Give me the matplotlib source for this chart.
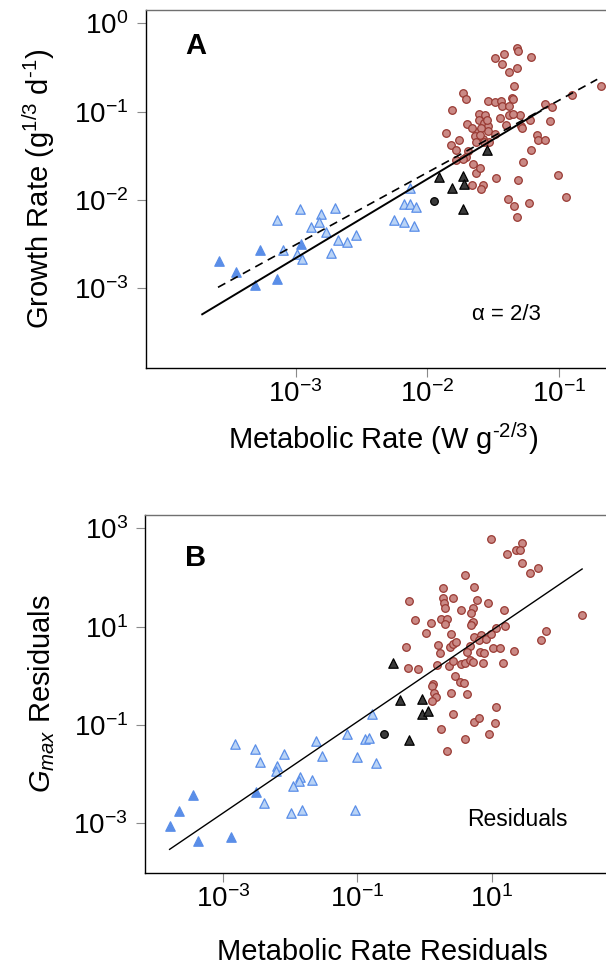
import numpy as np
import matplotlib
matplotlib.use("Agg")
import matplotlib.pyplot as plt
from matplotlib.ticker import NullLocator, LogFormatterSciNotation

plt.rcParams["font.family"] = ["Liberation Sans", "DejaVu Sans"]
plt.rcParams["mathtext.fontset"] = "custom"
plt.rcParams["mathtext.rm"] = "Liberation Sans"
plt.rcParams["mathtext.it"] = "Liberation Sans:italic"
plt.rcParams["mathtext.bf"] = "Liberation Sans:bold"

# ---- Panel A: log10 metabolic rate (x) vs log10 growth rate (y) ----
a_fill_logx = [-3.58, -3.45, -3.31, -3.27, -3.14, -2.96]
a_fill_logy = [-2.69, -2.81, -2.96, -2.57, -2.90, -2.50]

a_open_logx = [-3.14, -2.97, -2.81, -2.70, -2.82, -2.88, -2.77, -3.10, -2.99, -2.95, -2.68,
               -2.61, -2.54, -2.73, -2.13, -2.18, -2.13, -2.09, -2.25, -2.18, -2.10]
a_open_logy = [-2.23, -2.10, -2.16, -2.09, -2.25, -2.31, -2.36, -2.57, -2.61, -2.67, -2.45,
               -2.48, -2.40, -2.60, -1.86, -2.04, -2.05, -2.08, -2.23, -2.25, -2.29]

a_dark_logx = [-1.91, -1.81, -1.73, -1.72, -1.73, -1.55]
a_dark_logy = [-1.74, -1.86, -1.73, -1.82, -2.10, -1.43]
a_dot_logx = [-1.95]
a_dot_logy = [-2.01]

a_red_logx = [-1.49, -1.42, -1.32, -1.31, -1.21, -1.43, -1.32, -1.38, -1.34, -1.73,
              -1.71, -1.81, -1.54, -1.49, -1.44, -1.36, -1.35, -1.43, -1.38, -1.38,
              -1.30, -1.45, -1.40, -1.29, -1.28, -1.22, -1.11, -1.05, -1.07, -0.90,
              -0.68, -1.61, -1.56, -1.61, -1.57, -1.54, -1.62, -1.54, -1.64, -1.58,
              -1.49, -1.53, -1.63, -1.70, -1.66, -1.86, -1.76, -1.82, -1.78, -1.69,
              -1.71, -1.78, -1.65, -1.63, -1.60, -1.66, -1.58, -1.59, -1.48, -1.31,
              -1.27, -1.21, -1.17, -1.16, -1.11, -1.01, -0.95, -1.39, -1.34, -1.32,
              -1.23, -1.59, -1.55, -1.60, -1.57, -1.73, -1.35]
a_red_logy = [-0.39, -0.35, -0.28, -0.31, -0.38, -0.46, -0.50, -0.55, -0.71, -0.79,
              -0.86, -0.98, -0.88, -0.89, -0.88, -0.84, -0.86, -0.94, -0.94, -1.04,
              -1.04, -1.07, -1.15, -1.16, -1.18, -1.09, -0.91, -0.95, -1.10, -0.81,
              -0.71, -1.02, -1.04, -1.09, -1.13, -1.16, -1.23, -1.22, -1.28, -1.31,
              -1.25, -1.34, -1.34, -1.14, -1.18, -1.24, -1.32, -1.38, -1.43, -1.45,
              -1.51, -1.55, -1.59, -1.69, -1.64, -1.83, -1.83, -1.88, -1.75, -1.77,
              -1.57, -1.43, -1.26, -1.32, -1.32, -1.72, -1.96, -1.99, -2.07, -2.19,
              -2.03, -1.18, -1.09, -1.26, -1.34, -1.53, -1.02]

# fitted lines (log10 intercept, slope, log10 x range)
a_fit_solid = (0.030, 0.896, -3.71, -1.14)
a_fit_dashed = (-0.052, 0.818, -3.59, -0.71)

# ---- Panel B: residuals ----
b_fill_logx = [-3.80, -3.66, -3.45, -3.37, -2.89, -2.51]
b_fill_logy = [-3.05, -2.75, -2.43, -3.35, -3.27, -2.36]

b_open_logx = [-2.83, -2.52, -2.45, -2.10, -2.20, -2.21, -1.85, -1.87, -1.96, -1.68, -2.39,
               -1.99, -1.83, -1.62, -1.53, -1.16, -0.88, -0.82, -1.01, -0.72, -1.04, -0.79]
b_open_logy = [-1.38, -1.49, -1.76, -1.60, -1.83, -1.93, -2.05, -2.13, -2.24, -2.12, -2.59,
               -2.80, -2.72, -1.33, -1.63, -1.19, -1.28, -1.26, -1.65, -1.77, -2.72, -0.78]

b_dark_logx = [-0.47, -0.37, -0.04, -0.04, 0.05, -0.23]
b_dark_logy = [0.26, -0.50, -0.47, -0.78, -0.72, -1.30]
b_dot_logx = [-0.60]
b_dot_logy = [-1.19]

b_red_logx = [0.99, 1.45, 1.36, 1.42, 1.23, 1.46, 1.58, 1.69, 0.60, 0.74,
              0.27, 0.28, 0.43, 0.29, 0.31, 0.79, 0.94, 0.73, 0.70, -0.23,
              0.54, 1.19, -0.14, 0.09, 0.25, 0.34, 0.31, 0.71, 0.73, 0.69,
              1.06, 1.20, 0.02, 0.39, 0.20, 0.38, 0.43, 0.47, 0.74, 0.84,
              0.81, 0.91, 0.99, 1.02, 1.12, 1.34, 1.17, 1.74, 1.81, 2.35,
              -0.27, 0.23, 0.68, 0.63, 0.83, 0.88, -0.25, -0.10, 0.19, 0.36,
              0.43, 0.54, 0.61, 0.68, 0.72, 0.87, 0.46, 0.53, 0.59, 0.13,
              0.11, 0.14, 0.17, 0.11, 0.40, 0.64, 1.07, 0.42, 0.74, 0.82,
              1.05, 0.24, 0.96, 0.61, 0.34]
b_red_logy = [2.79, 2.69, 2.56, 2.56, 2.48, 2.29, 2.08, 2.20, 2.04, 1.81,
              1.79, 1.59, 1.58, 1.47, 1.37, 1.54, 1.47, 1.37, 1.28, 1.52,
              1.33, 1.33, 1.13, 1.08, 1.15, 1.16, 1.05, 1.07, 1.09, 1.03,
              0.97, 1.02, 0.88, 0.85, 0.63, 0.59, 0.65, 0.69, 0.78, 0.82,
              0.72, 0.74, 0.84, 0.56, 0.57, 0.50, 0.25, 0.73, 0.91, 1.24,
              0.59, 0.47, 0.61, 0.49, 0.48, 0.47, 0.16, 0.14, 0.21, 0.19,
              0.30, 0.24, 0.27, 0.32, 0.29, 0.27, 0.00, -0.12, -0.14, -0.17,
              -0.20, -0.36, -0.44, -0.52, -0.36, -0.38, -0.64, -0.78, -0.93, -0.86,
              -0.96, -1.08, -1.19, -1.29, -1.53]

b_fit_solid = (-0.007, 0.927, -3.80, 2.35)

RED_FC, RED_EC = "#ca8985", "#993a33"
BLUE = "#5a8ee8"
LBLUE_FC = "#b9d3f6"
DARK = "#3a3a3a"


def lin(v):
    return 10 ** np.asarray(v)


def draw_points(ax, red, opn, fill, dark, dot):
    ax.scatter(lin(red[0]), lin(red[1]), s=30, c=RED_FC, edgecolors=RED_EC,
               linewidths=0.9, zorder=2)
    ax.scatter(lin(opn[0]), lin(opn[1]), s=46, marker="^", c=LBLUE_FC,
               edgecolors=BLUE, linewidths=0.9, zorder=3)
    ax.scatter(lin(fill[0]), lin(fill[1]), s=46, marker="^", c=BLUE,
               edgecolors=BLUE, linewidths=0.9, zorder=3)
    ax.scatter(lin(dark[0]), lin(dark[1]), s=46, marker="^", c=DARK,
               edgecolors="black", linewidths=0.9, zorder=3)
    ax.scatter(lin(dot[0]), lin(dot[1]), s=30, c=DARK, edgecolors="black",
               linewidths=0.9, zorder=3)


def draw_fit(ax, fit, **kw):
    icpt, slope, x0, x1 = fit
    xs = lin([x0, x1])
    ax.plot(xs, 10 ** icpt * xs ** slope, zorder=4, **kw)


def style_axes(ax, xticks, yticks, xlim, ylim):
    ax.set_xscale("log")
    ax.set_yscale("log")
    ax.set_xlim(xlim)
    ax.set_ylim(ylim)
    ax.set_xticks(xticks)
    ax.set_yticks(yticks)
    for axis in (ax.xaxis, ax.yaxis):
        axis.set_minor_locator(NullLocator())
        axis.set_major_formatter(LogFormatterSciNotation())
    ax.tick_params(direction="out", length=6.5, width=0.8, color="#8a8a8a",
                   labelsize=20)
    ax.tick_params(axis="x", pad=2)
    ax.tick_params(axis="y", pad=6)
    for side in ("left", "bottom"):
        ax.spines[side].set_color("black")
        ax.spines[side].set_linewidth(1.0)
    ax.spines["top"].set_color("#707070")
    ax.spines["top"].set_linewidth(1.0)
    ax.spines["right"].set_visible(False)


fig = plt.figure(figsize=(6.06, 9.66), dpi=100)

axA = fig.add_axes([0.2409, 0.6190, 0.782, 0.3706])
draw_points(axA, (a_red_logx, a_red_logy), (a_open_logx, a_open_logy),
            (a_fill_logx, a_fill_logy), (a_dark_logx, a_dark_logy),
            (a_dot_logx, a_dot_logy))
draw_fit(axA, a_fit_solid, color="black", lw=1.4)
draw_fit(axA, a_fit_dashed, color="black", lw=1.2, dashes=(5, 3.5))
style_axes(axA, [1e-3, 1e-2, 1e-1], [1e-3, 1e-2, 1e-1, 1e0],
           (10 ** -4.137, 10 ** -0.538), (10 ** -3.903, 10 ** 0.152))
axA.text(0.105, 0.9, "A", transform=axA.transAxes, fontsize=21,
         fontweight="bold", ha="center", va="center")
axA.text(0.76, 0.15, "\u03b1 = 2/3", transform=axA.transAxes, fontsize=16,
         ha="center", va="center")
axA.set_xlabel("Metabolic Rate (W g$^{\\text{-2/3}}$)", fontsize=21, labelpad=9)
axA.set_ylabel("Growth Rate (g$^{\\text{1/3}}$ d$^{\\text{-1}}$)", fontsize=21,
               labelpad=12)

axB = fig.add_axes([0.2398, 0.0963, 0.783, 0.3706])
draw_points(axB, (b_red_logx, b_red_logy), (b_open_logx, b_open_logy),
            (b_fill_logx, b_fill_logy), (b_dark_logx, b_dark_logy),
            (b_dot_logx, b_dot_logy))
draw_fit(axB, b_fit_solid, color="black", lw=1.0)
style_axes(axB, [1e-3, 1e-1, 1e1], [1e-3, 1e-1, 1e1, 1e3],
           (10 ** -4.162, 10 ** 2.912), (10 ** -4.01, 10 ** 3.27))
axB.text(0.105, 0.88, "B", transform=axB.transAxes, fontsize=21,
         fontweight="bold", ha="center", va="center")
axB.text(0.785, 0.15, "Residuals", transform=axB.transAxes, fontsize=16.5,
         ha="center", va="center")
axB.set_xlabel("Metabolic Rate Residuals", fontsize=21, labelpad=18)
axB.set_ylabel("$G_{max}$ Residuals", fontsize=21, labelpad=12)

fig.savefig("out.png", dpi=100)
